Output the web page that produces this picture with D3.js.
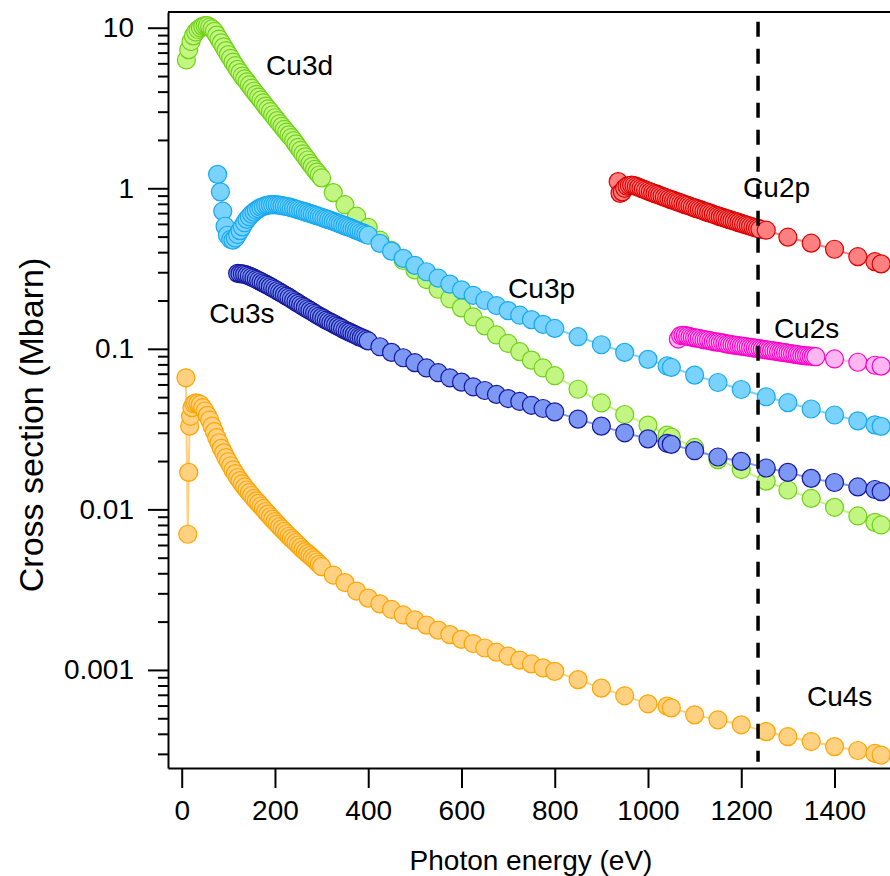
<!DOCTYPE html>
<html>
<head>
<meta charset="utf-8">
<script src="https://cdn.jsdelivr.net/npm/d3@7"></script>
<style>
  html, body { margin: 0; padding: 0; background: #fff; }
  svg { display: block; font-family: "Liberation Sans", Arial, sans-serif; }
</style>
</head>
<body>
<div id="chart"></div>
<script>
// Shared photon energy grids (eV)
const midEnergy = [425, 450, 475, 500, 525, 550, 575, 600, 625, 650, 675, 700, 725, 750, 775, 800];
const highEnergy = [850, 900, 950, 1000, 1041, 1050, 1100, 1150, 1200, 1253.6, 1300, 1350, 1400, 1450, 1486.6, 1500];

// Cu3d (low-energy part is sampled every 5 eV)
const cu3dLowEnergy = [10, 15, 20, 25, 30, 35, 40, 45, 50, 55, 60, 65, 70, 75, 80, 85, 90, 95, 100, 105, 110, 115, 120, 125, 130,
    135, 140, 145, 150, 155, 160, 165, 170, 175, 180, 185, 190, 195, 200, 205, 210, 215, 220, 225, 230, 235, 240, 245, 250,
    255, 260, 265, 270, 275, 280, 285, 290, 295, 300, 325, 350, 375, 400];
const cu3dLow = [6.3, 7.3, 8.2, 8.9, 9.4, 9.75, 10.0, 10.2, 10.3, 10.3, 10.1, 9.85, 9.5, 9.0, 8.5, 8.05, 7.6, 7.2, 6.8, 6.45, 6.1, 5.8, 5.5, 5.25, 5.0,
    4.8, 4.6, 4.4, 4.2, 4.02, 3.85, 3.7, 3.55, 3.4, 3.25, 3.12, 3.0, 2.87, 2.75, 2.64, 2.53, 2.43, 2.33, 2.24, 2.15, 2.07, 1.98, 1.89, 1.8,
    1.72, 1.64, 1.57, 1.5, 1.43, 1.37, 1.31, 1.26, 1.21, 1.16, 0.94, 0.79, 0.67, 0.57];
const cu3dMid = [0.475, 0.41, 0.355, 0.31, 0.27, 0.235, 0.205, 0.18, 0.158, 0.139, 0.122, 0.108, 0.096, 0.085, 0.076, 0.068];
const cu3dHigh = [0.056, 0.046, 0.039, 0.0335, 0.029, 0.0282, 0.0243, 0.0204, 0.0177, 0.015, 0.0132, 0.0117, 0.0103, 0.0091, 0.0083, 0.008];

// Cu3p
const cu3pLowEnergy = [77, 83, 88, 93, 98, 105, 110, 115, 120, 125, 130, 135, 140, 145, 150, 155, 160, 165, 170, 175, 180, 185,
    190, 195, 200, 205, 210, 215, 220, 225, 230, 235, 240, 245, 250, 255, 260, 265, 270, 275, 280, 285, 290, 295, 300,
    305, 310, 315, 320, 325, 330, 335, 340, 345, 350, 355, 360, 365, 370, 375, 380, 385, 390, 395, 400];
const cu3pLow = [1.22, 0.95, 0.72, 0.58, 0.51, 0.48, 0.475, 0.49, 0.515, 0.545, 0.575, 0.61, 0.64, 0.665, 0.69, 0.71, 0.73, 0.745, 0.76, 0.77, 0.78, 0.785,
    0.79, 0.79, 0.79, 0.788, 0.785, 0.78, 0.775, 0.77, 0.765, 0.757, 0.75, 0.742, 0.735, 0.727, 0.72, 0.712, 0.705, 0.697, 0.69, 0.682, 0.675, 0.667, 0.66,
    0.652, 0.645, 0.637, 0.63, 0.622, 0.615, 0.607, 0.6, 0.592, 0.585, 0.577, 0.57, 0.562, 0.555, 0.547, 0.54, 0.532, 0.525, 0.517, 0.51];
const cu3pMid = [0.454, 0.406, 0.366, 0.331, 0.302, 0.276, 0.253, 0.233, 0.2155, 0.2, 0.186, 0.173, 0.162, 0.152, 0.142, 0.134];
const cu3pHigh = [0.119, 0.106, 0.095, 0.086, 0.0782, 0.0766, 0.0686, 0.0617, 0.0558, 0.0503, 0.0462, 0.0422, 0.0387, 0.0356, 0.0336, 0.0329];

// Cu3s
const cu3sLowEnergy = [120, 125, 130, 135, 140, 145, 150, 155, 160, 165, 170, 175, 180, 185, 190, 195, 200, 205, 210, 215, 220,
    225, 230, 235, 240, 245, 250, 255, 260, 265, 270, 275, 280, 285, 290, 295, 300, 305, 310, 315, 320, 325, 330, 335, 340,
    345, 350, 355, 360, 365, 370, 375, 380, 385, 390, 395, 400];
const cu3sLow = [0.295, 0.294, 0.293, 0.291, 0.288, 0.284, 0.28, 0.2755, 0.271, 0.2665, 0.262, 0.2575, 0.253, 0.2485, 0.244, 0.2395, 0.235, 0.2305, 0.226, 0.2215, 0.217,
    0.213, 0.209, 0.2045, 0.2, 0.196, 0.192, 0.188, 0.184, 0.1805, 0.177, 0.1735, 0.17, 0.1665, 0.163, 0.16, 0.157, 0.154, 0.151, 0.1485, 0.146, 0.1435, 0.141, 0.1385, 0.136,
    0.1335, 0.131, 0.129, 0.127, 0.125, 0.123, 0.121, 0.119, 0.1175, 0.116, 0.114, 0.112];
const cu3sMid = [0.103, 0.095, 0.088, 0.082, 0.076, 0.071, 0.066, 0.062, 0.058, 0.055, 0.052, 0.049, 0.047, 0.0445, 0.0425, 0.0405];
const cu3sHigh = [0.0365, 0.033, 0.03, 0.0275, 0.0258, 0.0254, 0.0232, 0.0212, 0.0199, 0.0181, 0.017, 0.0156, 0.0147, 0.0138, 0.0133, 0.0129];

// Cu4s
const cu4sLowEnergy = [9, 13, 15, 17, 19, 22, 26, 30, 35, 40, 45, 50, 55, 60, 65, 70, 75, 80, 85, 90, 95, 100, 105, 110, 115, 120,
    125, 130, 135, 140, 145, 150, 155, 160, 165, 170, 175, 180, 185, 190, 195, 200, 205, 210, 215, 220, 225, 230, 235, 240,
    245, 250, 255, 260, 265, 270, 275, 280, 285, 290, 295, 300, 325, 350, 375, 400];
const cu4sLow = [0.066, 0.007, 0.017, 0.033, 0.038, 0.043, 0.0455, 0.046, 0.0458, 0.045, 0.043, 0.041, 0.0385, 0.036, 0.033, 0.0305, 0.028, 0.026, 0.024, 0.0225, 0.021, 0.0198, 0.0187, 0.0176, 0.0167, 0.0158,
    0.0151, 0.0144, 0.0138, 0.0132, 0.0127, 0.0122, 0.0117, 0.0113, 0.0109, 0.0105, 0.0101, 0.0097, 0.00935, 0.009, 0.0087, 0.0084, 0.0081, 0.0078, 0.00755, 0.0073, 0.00705, 0.0068, 0.0066, 0.0064,
    0.0062, 0.006, 0.0058, 0.0056, 0.00545, 0.0053, 0.00515, 0.005, 0.00485, 0.0047, 0.00455, 0.0044, 0.0039, 0.0035, 0.0031, 0.0028];
const cu4sMid = [0.00258, 0.00238, 0.0022, 0.00205, 0.0019, 0.00177, 0.00166, 0.00155, 0.00146, 0.00137, 0.00129, 0.00122, 0.00115, 0.00109, 0.00103, 0.00098];
const cu4sHigh = [0.00087, 0.00077, 0.00069, 0.000615, 0.000595, 0.00058, 0.000525, 0.000489, 0.000455, 0.000413, 0.000384, 0.000358, 0.000333, 0.000315, 0.000302, 0.000295];

// Cu2p
const cu2pEnergy = [936, 940, 945, 950, 955, 960, 965, 970, 975, 980, 985, 990, 995, 1000, 1005, 1010, 1015, 1020, 1025, 1030,
    1035, 1040, 1045, 1050, 1055, 1060, 1065, 1070, 1075, 1080, 1085, 1090, 1095, 1100, 1105, 1110, 1115, 1120, 1125, 1130,
    1135, 1140, 1145, 1150, 1155, 1160, 1165, 1170, 1175, 1180, 1185, 1190, 1195, 1200, 1205, 1210, 1215, 1220, 1225, 1230,
    1235, 1240, 1253.6, 1300, 1350, 1400, 1450, 1486.6, 1500];
const cu2pValue = [1.1, 0.93, 0.95, 1.0, 1.03, 1.04, 1.045, 1.04, 1.027, 1.013, 1.0, 0.987, 0.975, 0.962, 0.95, 0.938, 0.926, 0.915, 0.903, 0.892,
    0.881, 0.87, 0.86, 0.85, 0.84, 0.829, 0.82, 0.81, 0.8, 0.791, 0.782, 0.773, 0.764, 0.755, 0.746, 0.738, 0.73, 0.721, 0.713, 0.705,
    0.697, 0.689, 0.681, 0.674, 0.666, 0.659, 0.652, 0.645, 0.638, 0.631, 0.624, 0.618, 0.611, 0.604, 0.598, 0.592, 0.586, 0.58, 0.574, 0.568,
    0.562, 0.556, 0.548, 0.496, 0.455, 0.417, 0.375, 0.349, 0.338];

// Cu2s
const cu2sEnergy = [1065, 1070, 1075, 1080, 1085, 1090, 1095, 1100, 1105, 1110, 1115, 1120, 1125, 1130, 1135, 1140, 1145, 1150,
    1155, 1160, 1165, 1170, 1175, 1180, 1185, 1190, 1195, 1200, 1205, 1210, 1215, 1220, 1225, 1230, 1235, 1240, 1245, 1250,
    1255, 1260, 1265, 1270, 1275, 1280, 1285, 1290, 1295, 1300, 1305, 1310, 1315, 1320, 1325, 1330, 1335, 1340, 1345, 1350,
    1355, 1360, 1400, 1450, 1486.6, 1500];
const cu2sValue = [0.115, 0.121, 0.1215, 0.121, 0.12, 0.119, 0.118, 0.117, 0.1165, 0.116, 0.115, 0.114, 0.1135, 0.113, 0.112, 0.111, 0.1105, 0.11,
    0.1095, 0.109, 0.108, 0.107, 0.1065, 0.106, 0.1055, 0.105, 0.1045, 0.104, 0.1035, 0.103, 0.1025, 0.102, 0.1015, 0.101, 0.1005, 0.1, 0.0995, 0.099,
    0.0985, 0.098, 0.0975, 0.097, 0.0965, 0.096, 0.0955, 0.095, 0.0945, 0.094, 0.0935, 0.093, 0.0925, 0.092, 0.0915, 0.091, 0.0907, 0.0905, 0.0902, 0.09,
    0.0897, 0.0893, 0.0865, 0.0825, 0.079, 0.078];

// Axis ticks and labels
const xTickValues = [0, 200, 400, 600, 800, 1000, 1200, 1400];
const yTickValues = [0.001, 0.01, 0.1, 1, 10];
const yTickLabels = ["0.001", "0.01", "0.1", "1", "10"];

// Dashed reference energy (eV)
const refEnergy = 1236;

// Subshell labels, anchored in data space
const labelNames = ["Cu3d", "Cu2p", "Cu2s", "Cu3p", "Cu3s", "Cu4s"];
const labelEnergy = [181, 1204, 1270, 700, 59, 1341];
const labelValue = [5.07, 0.882, 0.1168, 0.2072, 0.1448, 0.0006];

// Colors for each subshell
const colors = {
    Cu3d: { fill: "#c2f582", stroke: "#6fd117" },
    Cu3p: { fill: "#7ad3ff", stroke: "#17a9ef" },
    Cu3s: { fill: "#7d97f5", stroke: "#15179a" },
    Cu4s: { fill: "#ffd180", stroke: "#ffa400" },
    Cu2p: { fill: "#ff8080", stroke: "#dc0000" },
    Cu2s: { fill: "#ffb6f1", stroke: "#ff00c8" }
};

const series = [
    { name: "Cu3d", energy: cu3dLowEnergy.concat(midEnergy, highEnergy), value: cu3dLow.concat(cu3dMid, cu3dHigh) },
    { name: "Cu3p", energy: cu3pLowEnergy.concat(midEnergy, highEnergy), value: cu3pLow.concat(cu3pMid, cu3pHigh) },
    { name: "Cu3s", energy: cu3sLowEnergy.concat(midEnergy, highEnergy), value: cu3sLow.concat(cu3sMid, cu3sHigh) },
    { name: "Cu4s", energy: cu4sLowEnergy.concat(midEnergy, highEnergy), value: cu4sLow.concat(cu4sMid, cu4sHigh) },
    { name: "Cu2p", energy: cu2pEnergy, value: cu2pValue },
    { name: "Cu2s", energy: cu2sEnergy, value: cu2sValue }
];

const width = 890, height = 876;
const plot = { left: 168, right: 890, top: 12, bottom: 768 };

const svg = d3.select("#chart").append("svg")
    .attr("width", width)
    .attr("height", height);

const x = d3.scaleLinear().domain([-29.4, 1519]).range([plot.left, plot.right]);
const y = d3.scaleLog().domain([0.000245, 12.53]).range([plot.bottom, plot.top]);

// Series: connecting line then markers
const line = d3.line().x(d => x(d[0])).y(d => y(d[1]));

series.forEach(function (s) {
    const pts = s.energy.map((e, i) => [e, s.value[i]]);
    const c = colors[s.name];
    svg.append("path")
        .datum(pts)
        .attr("d", line)
        .attr("fill", "none")
        .attr("stroke", c.fill)
        .attr("stroke-width", 2);
    svg.append("g").selectAll("circle")
        .data(pts)
        .join("circle")
        .attr("cx", d => x(d[0]))
        .attr("cy", d => y(d[1]))
        .attr("r", 9)
        .attr("fill", c.fill)
        .attr("stroke", c.stroke)
        .attr("stroke-width", 1.2);
});

// Subshell labels
svg.append("g").selectAll("text")
    .data(labelNames)
    .join("text")
    .attr("x", (d, i) => x(labelEnergy[i]))
    .attr("y", (d, i) => y(labelValue[i]))
    .attr("font-size", 28)
    .attr("fill", "#000")
    .text(d => d);

// Dashed vertical line
svg.append("line")
    .attr("x1", x(refEnergy)).attr("x2", x(refEnergy))
    .attr("y1", y(10.9)).attr("y2", y(0.000268))
    .attr("stroke", "#000")
    .attr("stroke-width", 3.5)
    .attr("stroke-dasharray", "15,12");

// Axes
const xAxis = d3.axisBottom(x)
    .tickValues(xTickValues)
    .tickSize(20)
    .tickSizeOuter(0)
    .tickPadding(12)
    .tickFormat(d3.format("d"));

const gx = svg.append("g")
    .attr("transform", `translate(0,${plot.bottom})`)
    .call(xAxis);

const yAxis = d3.axisLeft(y)
    .tickValues(yTickValues)
    .tickSize(20)
    .tickSizeOuter(0)
    .tickPadding(14)
    .tickFormat((d, i) => yTickLabels[i]);

const gy = svg.append("g")
    .attr("transform", `translate(${plot.left},0)`)
    .call(yAxis);

const minor = y.ticks().filter(v => Math.abs(Math.log10(v) - Math.round(Math.log10(v))) > 1e-6);
svg.append("g")
    .attr("transform", `translate(${plot.left},0)`)
    .call(d3.axisLeft(y).tickValues(minor).tickSize(10).tickSizeOuter(0).tickFormat(""))
    .call(g => g.select(".domain").remove());

[gx, gy].forEach(function (g) {
    g.select(".domain").attr("stroke", "#000").attr("stroke-width", 2);
    g.selectAll(".tick text")
        .attr("fill", "#000")
        .attr("font-size", 28)
        .attr("font-family", "'Liberation Sans', Arial, sans-serif");
});
svg.selectAll(".tick line").attr("stroke", "#000").attr("stroke-width", 2);

// Top frame line
svg.append("line")
    .attr("x1", plot.left).attr("x2", plot.right)
    .attr("y1", plot.top).attr("y2", plot.top)
    .attr("stroke", "#000")
    .attr("stroke-width", 2);

// Axis titles
svg.append("text")
    .attr("x", 531)
    .attr("y", 870)
    .attr("text-anchor", "middle")
    .attr("font-size", 28)
    .text("Photon energy (eV)");

svg.append("text")
    .attr("transform", "translate(43,425) rotate(-90)")
    .attr("text-anchor", "middle")
    .attr("font-size", 34)
    .text("Cross section (Mbarn)");
</script>
</body>
</html>
